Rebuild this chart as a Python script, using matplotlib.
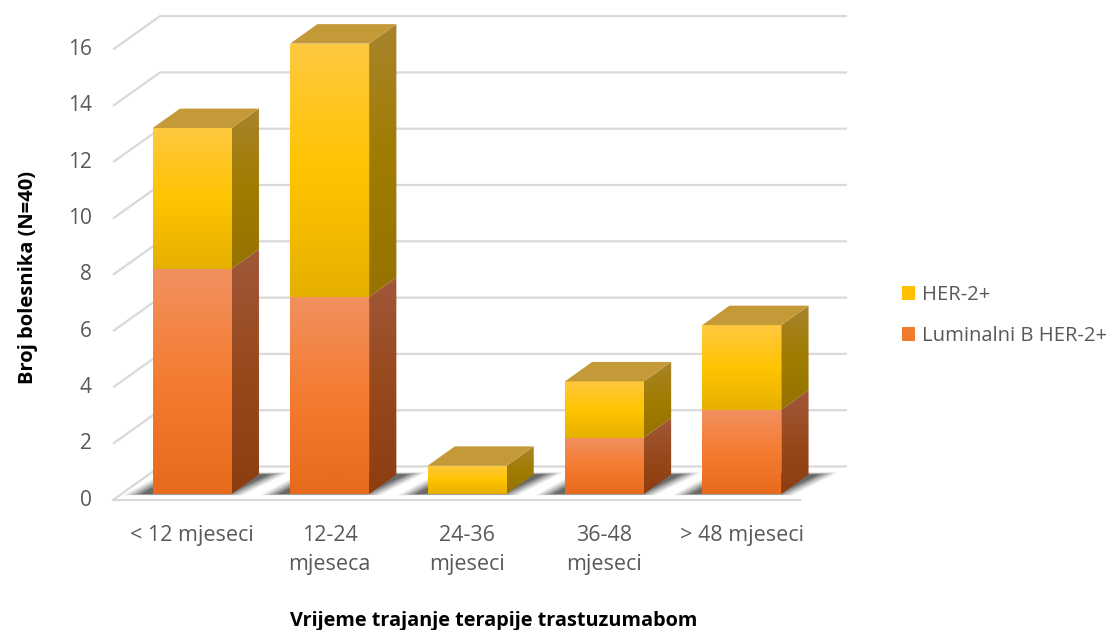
import matplotlib
matplotlib.use("Agg")
import matplotlib.pyplot as plt
import numpy as np
from matplotlib.colors import LinearSegmentedColormap
from matplotlib.patches import Polygon, Patch

categories = ["< 12 mjeseci", "12-24\nmjeseca", "24-36\nmjeseci", "36-48\nmjeseci", "> 48 mjeseci"]
luminal_b = [8, 7, 0, 2, 3]
her2 = [5, 9, 1, 2, 3]
yticks = list(range(0, 17, 2))
series_names = ["HER-2+", "Luminalni B HER-2+"]

plt.rcParams["font.family"] = ["Open Sans", "DejaVu Sans"]
TXT = "#595959"

# fake 3D: depth vector in data units, bar placement within depth
DX, DY = 0.342, 1.19
D0, DB = 0.18, 0.58
W = 0.575
XSHIFT = 0.015

# colour ramps (top -> bottom)
ORANGE_FRONT = ["#f29060", "#f47c30", "#e86a1c"]
ORANGE_SIDE = ["#a0583a", "#98491c", "#8c3e10"]
YELLOW_FRONT = ["#ffc840", "#ffc400", "#e6b000"]
YELLOW_SIDE = ["#a8842c", "#a07c00", "#967200"]
YELLOW_TOP = "#c49a38"


def proj(x, v, d):
    return (x + d * DX, v + d * DY)


def grad_poly(ax, verts, colors, z):
    verts = np.array(verts)
    poly = Polygon(verts, closed=True, facecolor="none", edgecolor="none", zorder=z)
    ax.add_patch(poly)
    cmap = LinearSegmentedColormap.from_list("g", colors)
    img = np.linspace(0, 1, 128).reshape(-1, 1)
    im = ax.imshow(img, cmap=cmap, aspect="auto", origin="upper", zorder=z,
                   extent=(verts[:, 0].min(), verts[:, 0].max(),
                           verts[:, 1].min(), verts[:, 1].max()),
                   interpolation="bilinear")
    im.set_clip_path(poly)


fig = plt.figure(figsize=(11.12, 6.3), dpi=100)
ax = fig.add_axes([0, 0, 1, 1])
ax.set_axis_off()

n = len(categories)
xl, xr = -0.5, n - 0.5

# gridlines on left wall + back wall
for v in yticks:
    p0, p1, p2 = proj(xl, v, 0), proj(xl, v, 1), proj(xr, v, 1)
    ax.plot([p0[0], p1[0], p2[0]], [p0[1], p1[1], p2[1]], color="#d9d9d9", lw=1.6, zorder=1,
            solid_capstyle="butt")
    ax.text(p0[0] - 0.155, p0[1], str(v), ha="right", va="center", fontsize=15, color=TXT)
f0, f1 = proj(xl, 0, 0), proj(xr, 0, 0)
ax.plot([f0[0], f1[0]], [f0[1], f1[1]], color="#d9d9d9", lw=1.6, zorder=1)

for i in range(n):
    x0, x1 = i - W / 2 + XSHIFT, i + W / 2 + XSHIFT
    # soft floor shadow, darker towards the bar footprint
    for k, a in enumerate([0.10, 0.14, 0.18, 0.24, 0.30]):
        g = 0.13 - k * 0.028
        sh = [proj(x0 - g - 0.07, 0, D0 - g * 0.3), proj(x1 + g - 0.04, 0, D0 - g * 0.3),
              proj(x1 + g + 0.06, 0, D0 + DB + g * 0.5), proj(x0 - g, 0, D0 + DB + g * 0.5)]
        ax.add_patch(Polygon(sh, closed=True, facecolor="#202020", edgecolor="none",
                             alpha=a, zorder=2))

    segs = [(0, luminal_b[i], ORANGE_FRONT, ORANGE_SIDE),
            (luminal_b[i], luminal_b[i] + her2[i], YELLOW_FRONT, YELLOW_SIDE)]
    for b, t, fc, sc in segs:
        if t <= b:
            continue
        front = [proj(x0, b, D0), proj(x1, b, D0), proj(x1, t, D0), proj(x0, t, D0)]
        grad_poly(ax, front, fc, 3)
        side = [proj(x1, b, D0), proj(x1, b, D0 + DB), proj(x1, t, D0 + DB), proj(x1, t, D0)]
        grad_poly(ax, side, sc, 3)
    top = luminal_b[i] + her2[i]
    lid = [proj(x0, top, D0), proj(x1, top, D0), proj(x1, top, D0 + DB), proj(x0, top, D0 + DB)]
    ax.add_patch(Polygon(lid, closed=True, facecolor=YELLOW_TOP, edgecolor="none", zorder=3))

    cx, _ = proj(i + XSHIFT, 0, D0)
    ax.text(cx, -0.9, categories[i], ha="center", va="top", fontsize=15.5, color=TXT,
            linespacing=1.45)

ax.text(-1.119, 7.92, "Broj bolesnika (N=40)", rotation=90, ha="center", va="center",
        fontsize=14.5, fontweight="bold", color="black")
ax.text(2.273, -4.3, "Vrijeme trajanje terapije trastuzumabom", ha="center", va="center",
        fontsize=14.3, fontweight="bold", color="black")

handles = [Patch(facecolor="#ffc000", edgecolor="none"), Patch(facecolor="#f07b2c", edgecolor="none")]
fig.legend(handles, series_names, loc="center left", bbox_to_anchor=(0.811, 0.499),
           frameon=False, fontsize=14.6, handlelength=0.65, handleheight=0.65,
           handletextpad=0.33, labelspacing=1.05, borderpad=0, borderaxespad=0,
           labelcolor=TXT)

ax.set_xlim(-1.3224, 6.771)
ax.set_ylim(-4.618, 17.762)
fig.savefig("out.png", dpi=100)
